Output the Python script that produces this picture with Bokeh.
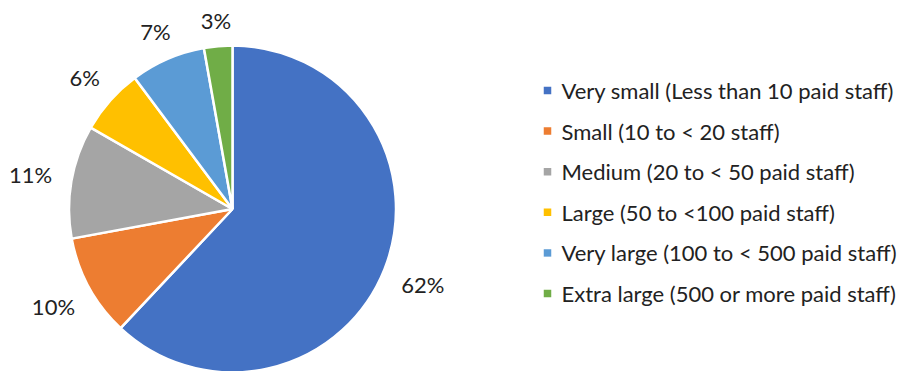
import math
from bokeh.plotting import figure
from bokeh.models import ColumnDataSource
from bokeh.core.properties import value
from bokeh.embed import file_html
from bokeh.resources import INLINE

categories = [
    "Very small (Less than 10 paid staff)",
    "Small (10 to < 20 staff)",
    "Medium (20 to < 50 paid staff)",
    "Large (50 to <100 paid staff)",
    "Very large (100 to < 500 paid staff)",
    "Extra large (500 or more paid staff)",
]
shares = [62.0, 10.1, 11.2, 6.5, 7.4, 2.8]
labels = ["62%", "10%", "11%", "6%", "7%", "3%"]
colors = ["#4472C4", "#ED7D31", "#A5A5A5", "#FFC000", "#5B9BD5", "#70AD47"]

W, H = 904, 371
CX, CY, R = 232, H - 208.5, 163.5
GAP, HALF_H = 21, 4
FONT = "Lato"
FS = "22px"
TXT = "#222222"

total = sum(shares)
starts, ends, lx, ly = [], [], [], []
cum = 0.0
for s, lab in zip(shares, labels):
    a0 = math.pi / 2 - 2 * math.pi * cum / total
    cum += s
    a1 = math.pi / 2 - 2 * math.pi * cum / total
    starts.append(a0)
    ends.append(a1)
    mid = (a0 + a1) / 2
    half_w = 6 * len(lab) + 2
    d = R + GAP + half_w * abs(math.cos(mid)) + HALF_H * abs(math.sin(mid))
    lx.append(CX + d * math.cos(mid))
    ly.append(CY + d * math.sin(mid))

src = ColumnDataSource(dict(start=starts, end=ends, color=colors, lx=lx, ly=ly, label=labels))

p = figure(width=W, height=H, x_range=(0, W), y_range=(0, H),
           output_backend="svg", toolbar_location=None, min_border=0)
p.axis.visible = False
p.grid.visible = False
p.outline_line_color = None
p.background_fill_color = "white"

p.wedge(x=CX, y=CY, radius=R, start_angle="start", end_angle="end", direction="clock",
        fill_color="color", line_color="white", line_width=2.5, source=src)

p.text(x="lx", y="ly", text="label", source=src, text_align="center", text_baseline="middle",
       text_font=value(FONT), text_font_size=FS, text_color=TXT)

# legend
LEG_X, LEG_Y0, LEG_DY = 547, H - 90, 40.6
leg = ColumnDataSource(dict(
    x=[LEG_X] * len(categories),
    y=[LEG_Y0 - i * LEG_DY for i in range(len(categories))],
    tx=[LEG_X + 14] * len(categories),
    name=categories, color=colors))
p.scatter(x="x", y="y", marker="square", size=7.5, fill_color="color", line_color=None, source=leg)
p.text(x="tx", y="y", text="name", source=leg, text_align="left", text_baseline="middle",
       text_font=value(FONT), text_font_size=FS, text_color=TXT)

open("out.html", "w").write(file_html(p, INLINE))
